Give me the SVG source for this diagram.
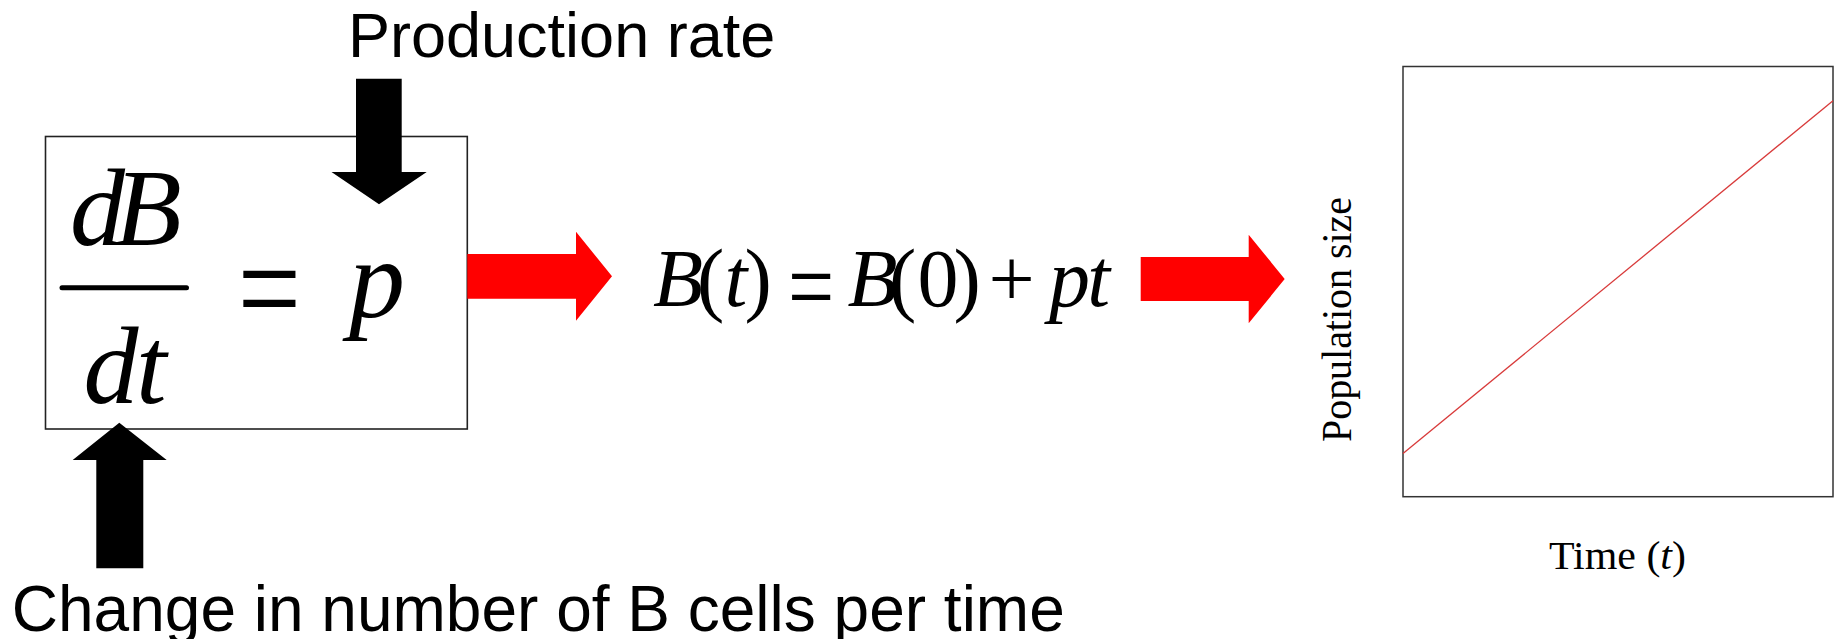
<svg xmlns="http://www.w3.org/2000/svg" width="1839" height="639" viewBox="0 0 1839 639">
<style>
.sans{font-family:"Liberation Sans",Arial,sans-serif;fill:#000}
.serif{font-family:"Liberation Serif","Times New Roman",serif;fill:#000}
.it{font-style:italic}
.blk{fill:#000}
.red{fill:#ff0000}
</style>
<rect width="1839" height="639" fill="#fff"/>
<g id="equation-box">
  <rect x="45.5" y="136.5" width="421.8" height="292.5" fill="none" stroke="#222" stroke-width="1.6"/>
  <text class="serif it" font-size="110"><tspan x="70" y="245">d</tspan><tspan x="114.5" y="245">B</tspan></text>
  <line x1="62" y1="287.7" x2="186.5" y2="287.7" stroke="#000" stroke-width="5" stroke-linecap="round"/>
  <text class="serif it" font-size="110"><tspan x="83.5" y="403.3">d</tspan><tspan x="136" y="403.3">t</tspan></text>
  <text class="serif" font-size="112" transform="translate(237.7,337) scale(1,1.31)" x="0" y="0">=</text>
  <text class="serif it" font-size="112" x="349" y="317">p</text>
</g>
<g id="production-rate">
  <text class="sans" font-size="63" x="348" y="57">Production rate</text>
</g>
<g id="change-label">
  <text class="sans" font-size="64" x="11.8" y="630.7">Change in number of B cells per time</text>
</g>
<g id="solution">
  <text class="serif" font-size="82" y="306"><tspan class="it" x="652.9">B</tspan><tspan x="697">(</tspan><tspan class="it" x="724.4">t</tspan><tspan x="744.6">)</tspan></text>
  <text class="serif" font-size="82" transform="translate(788,321.5) scale(1,1.29)" x="0" y="0">=</text>
  <text class="serif" font-size="82" y="306"><tspan class="it" x="847.5">B</tspan><tspan x="889">(</tspan><tspan x="917.6">0</tspan><tspan x="953.4">)</tspan><tspan x="988.5">+</tspan><tspan class="it" x="1049">p</tspan><tspan class="it" x="1087.2">t</tspan></text>
</g>
<g id="plot">
  <rect x="1403" y="66.5" width="430" height="430.2" fill="none" stroke="#333" stroke-width="1.5"/>
  <line x1="1403" y1="453.5" x2="1833" y2="100.7" stroke="#d83a3a" stroke-width="1.3"/>
  <text class="serif" font-size="42" transform="translate(1351,319.5) rotate(-90)" x="0" y="0" text-anchor="middle" textLength="245" lengthAdjust="spacingAndGlyphs">Population size</text>
  <text class="serif" font-size="40" x="1549" y="569" textLength="137" lengthAdjust="spacingAndGlyphs">Time (<tspan class="it">t</tspan>)</text>
</g>
<g id="connectors">
  <polygon class="blk" points="356,78.7 401.7,78.7 401.7,172 426.7,172 379,204.3 331.5,172 356,172"/>
  <polygon class="blk" points="119.3,422.7 166.7,460 143.3,460 143.3,568.3 96.3,568.3 96.3,460 72.7,460"/>
  <polygon class="red" points="467.3,254 576,254 576,231.7 612,276.3 576,320.7 576,298.7 467.3,298.7"/>
  <polygon class="red" points="1140.7,257 1248.7,257 1248.7,234.7 1284.7,279 1248.7,323.3 1248.7,301 1140.7,301"/>
</g>
</svg>
